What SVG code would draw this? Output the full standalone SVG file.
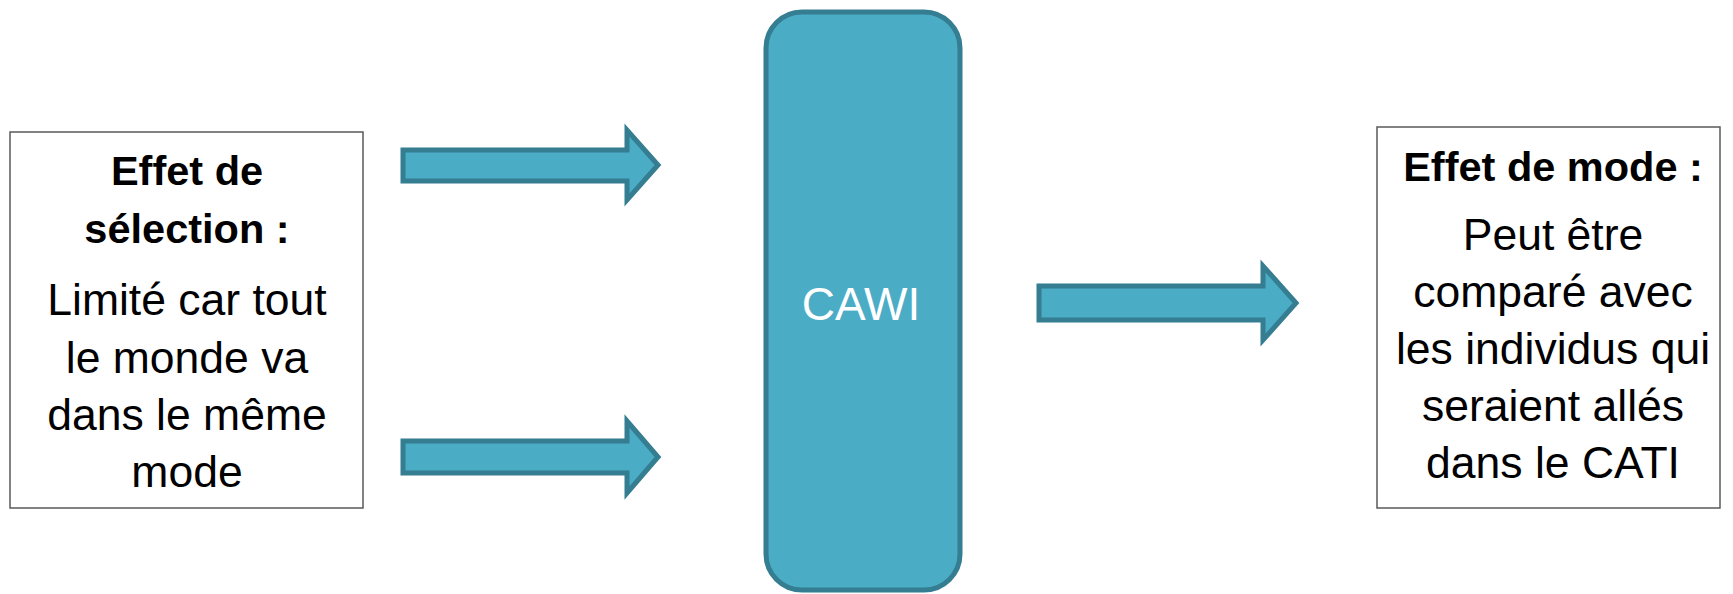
<svg xmlns="http://www.w3.org/2000/svg" width="1733" height="594" viewBox="0 0 1733 594">
<style>
.box{fill:#fff;stroke:#595959;stroke-width:1.5}
.t{font-family:"Liberation Sans",Arial,sans-serif;font-size:44.5px;fill:#000;text-anchor:middle}
.b{font-weight:bold;font-size:41.5px}
.arrow{fill:#4BACC6;stroke:#357D91;stroke-width:5;stroke-linejoin:miter}
.cawi{fill:#4BACC6;stroke:#357D91;stroke-width:5}
.ct{font-family:"Liberation Sans",Arial,sans-serif;font-size:46px;fill:#fff;text-anchor:middle}
</style>
<rect width="1733" height="594" fill="#fff"/>
<g id="selection">
<rect class="box" x="10" y="132" width="353" height="376"/>
<text class="t b" x="187" y="185">Effet de</text>
<text class="t b" x="187" y="243">sélection :</text>
<text class="t" x="187" y="315">Limité car tout</text>
<text class="t" x="187" y="373">le monde va</text>
<text class="t" x="187" y="430">dans le même</text>
<text class="t" x="187" y="487">mode</text>
</g>
<g id="cawi">
<rect class="cawi" x="766" y="12" width="194" height="578" rx="36" ry="36"/>
<text class="ct" x="861" y="320">CAWI</text>
</g>
<g id="mode">
<rect class="box" x="1377" y="127" width="343" height="381"/>
<text class="t b" x="1553" y="181">Effet de mode :</text>
<text class="t" x="1553" y="250">Peut être</text>
<text class="t" x="1553" y="307">comparé avec</text>
<text class="t" x="1553" y="364">les individus qui</text>
<text class="t" x="1553" y="421">seraient allés</text>
<text class="t" x="1553" y="478">dans le CATI</text>
</g>
<g id="connectors">
<polygon class="arrow" points="403,150 627,150 627,130 658,165 627,200 627,181 403,181"/>
<polygon class="arrow" points="403,441 627,441 627,421 658,457 627,493 627,473 403,473"/>
<polygon class="arrow" points="1039,286 1263,286 1263,266 1296,303 1263,340 1263,320 1039,320"/>
</g>
</svg>
